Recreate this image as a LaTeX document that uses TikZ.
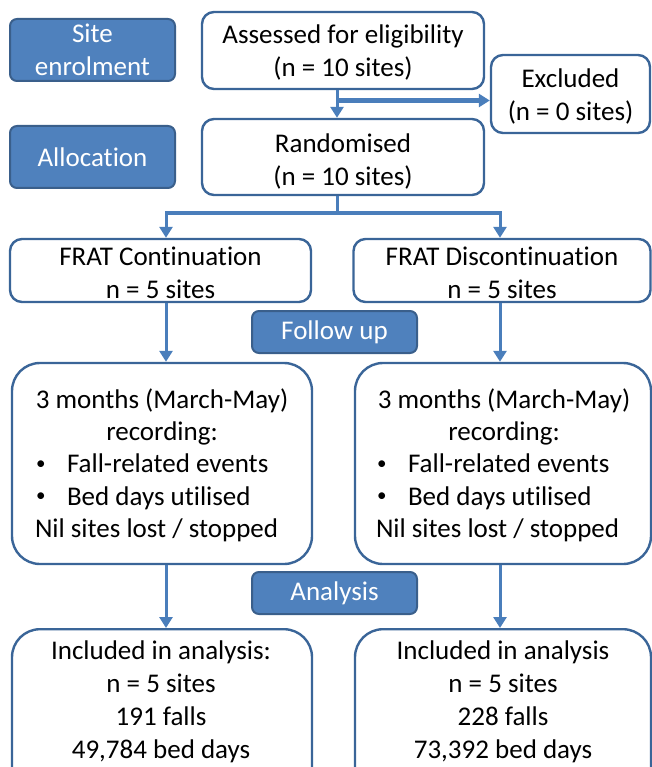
\documentclass[tikz,border=0pt]{standalone}
\usepackage{fontspec}
\setmainfont{Carlito}[Ligatures=NoCommon]
\usetikzlibrary{arrows.meta}
\definecolor{boxline}{HTML}{3A6598}
\definecolor{stagefill}{HTML}{4F81BD}
\definecolor{stageline}{HTML}{3A5F8B}
\definecolor{arrowcol}{HTML}{4A7EBB}
\newcommand{\smallbul}{\makebox[32pt][l]{\hspace{1pt}\raisebox{0.12em}{\fontsize{19}{19}\selectfont •}}}
\tikzset{
  stagebox/.style={draw=stageline, fill=stagefill, line width=2pt, rounded corners=7pt,
    text=white, align=center, font=\fontsize{27}{32.5}\selectfont, inner sep=0pt},
  infobox/.style={draw=boxline, fill=white, line width=2.4pt, rounded corners=12pt, inner sep=0pt},
  bigbox/.style={infobox, rounded corners=28pt},
  boxtext/.style={align=center, font=\fontsize{27}{33}\selectfont, inner sep=0pt},
  listtext/.style={align=left, font=\fontsize{27}{32.3}\selectfont, inner sep=0pt},
  flow/.style={draw=arrowcol, line width=3pt, -{Triangle[width=13pt,length=11pt]}},
  flowline/.style={draw=arrowcol, line width=3pt}
}
\begin{document}
\begin{tikzpicture}[x=1pt,y=-1pt]
\useasboundingbox (0,0) rectangle (652,767);
% stage labels
\node[stagebox, minimum width=165pt, minimum height=62pt] (enrol) at (92.5,50) {Site\\enrolment};
\node[stagebox, minimum width=165pt, minimum height=62pt] (alloc) at (92.5,157) {Allocation};
\node[stagebox, minimum width=165pt, minimum height=42pt] (follow) at (334.5,332) {Follow up};
\node[stagebox, minimum width=165pt, minimum height=42pt] (anal) at (334.5,593) {Analysis};
% boxes
\node[infobox, minimum width=282pt, minimum height=77pt] (assess) at (343,50.5) {};
\node[boxtext] (assesst) at (343,53) {Assessed for eligibility\\(n = 10 sites)};
\node[infobox, minimum width=159pt, minimum height=78pt] (excl) at (570.5,94) {};
\node[boxtext] (exclt) at (570.5,97) {Excluded\\(n = 0 sites)};
\node[infobox, minimum width=282pt, minimum height=76pt] (rand) at (343,157) {};
\node[boxtext] (randt) at (343,161) {Randomised\\(n = 10 sites)};
\node[infobox, minimum width=301pt, minimum height=63pt] (cont) at (160.5,270.5) {};
\node[boxtext] (contt) at (160.5,272.5) {FRAT Continuation\\n = 5 sites};
\node[infobox, minimum width=297pt, minimum height=63pt] (disc) at (502,270.5) {};
\node[boxtext] (disct) at (502,272.5) {FRAT Discontinuation\\n = 5 sites};
\node[bigbox, minimum width=300pt, minimum height=201pt] (recl) at (162,463.5) {};
\node[listtext] (reclt) at (162,465) {%
\makebox[254pt][c]{3 months (March-May)}\\
\makebox[254pt][c]{recording:}\\
\smallbul Fall-related events\\
\smallbul Bed days utilised\\
Nil sites lost / stopped};
\node[bigbox, minimum width=296pt, minimum height=201pt] (recr) at (503,463.5) {};
\node[listtext] (recrt) at (504,465) {%
\makebox[256pt][c]{3 months (March-May)}\\
\makebox[256pt][c]{recording:}\\
\smallbul Fall-related events\\
\smallbul Bed days utilised\\
Nil sites lost / stopped};
\node[bigbox, minimum width=300pt, minimum height=170pt, anchor=north] (incl) at (162,628) {};
\node[boxtext] (inclt) at (161,701.5) {Included in analysis:\\n = 5 sites\\191 falls\\49,784 bed days};
\node[bigbox, minimum width=296pt, minimum height=170pt, anchor=north] (incr) at (503,628) {};
\node[boxtext] (incrt) at (503,701.5) {Included in analysis\\n = 5 sites\\228 falls\\73,392 bed days};
% connectors
\coordinate (split1) at (337,100.5);
\coordinate (split2) at (337,213);
\coordinate (leftx) at (166,213);
\coordinate (rightx) at (500,213);
\draw[flow] (assess.south -| split1) -- (rand.north -| split1);
\draw[flow, line width=4.5pt] (split1) -- (excl.west |- split1);
\draw[flowline] (rand.south -| split2) -- (split2);
\draw[flow] (split2) -- (leftx) -- (cont.north -| leftx);
\draw[flow] (split2) -- (rightx) -- (disc.north -| rightx);
\draw[flow] (cont.south -| leftx) -- (recl.north -| leftx);
\draw[flow] (disc.south -| rightx) -- (recr.north -| rightx);
\draw[flow] (recl.south -| leftx) -- (incl.north -| leftx);
\draw[flow] (recr.south -| rightx) -- (incr.north -| rightx);
\end{tikzpicture}
\end{document}
